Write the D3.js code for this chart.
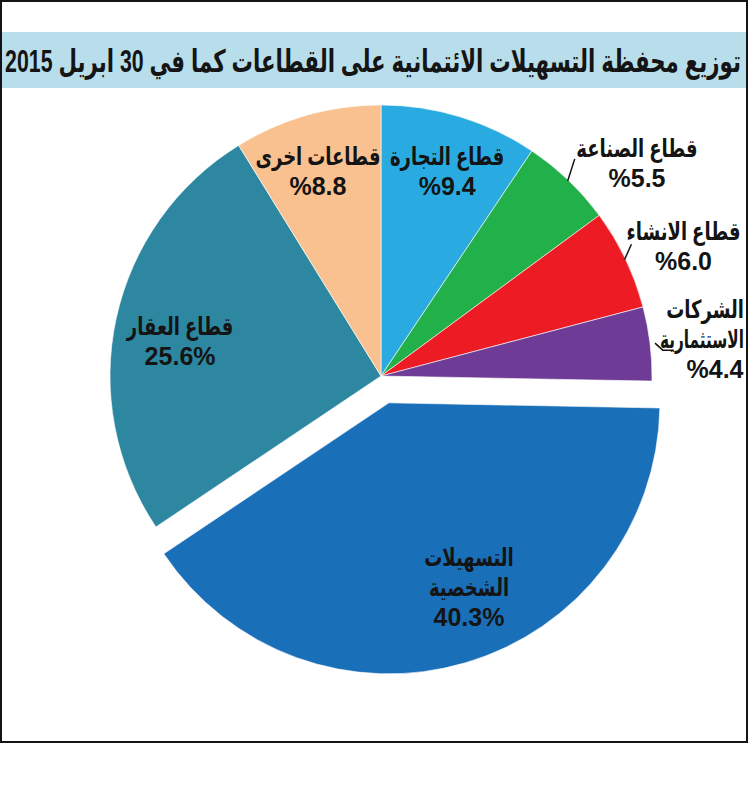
<!DOCTYPE html>
<html lang="ar">
<head>
<meta charset="UTF-8">
<title>توزيع محفظة التسهيلات الائتمانية</title>
<script src="https://d3js.org/d3.v7.min.js"></script>
<style>
    body { margin: 0; background: #fff; }
    text {
        font-family: "Liberation Sans", Arial, "DejaVu Sans", sans-serif;
        font-weight: bold;
        fill: #141414;
    }
</style>
</head>
<body>
<script>
    // data, clockwise from 12 o'clock
    const sectorNames = [
        ["قطاع التجارة"],
        ["قطاع الصناعة"],
        ["قطاع الانشاء"],
        ["الشركات", "الاستثمارية"],
        ["التسهيلات", "الشخصية"],
        ["قطاع العقار"],
        ["قطاعات اخرى"]
    ];
    const shares = [9.4, 5.5, 6.0, 4.4, 40.3, 25.6, 8.8];
    const shareTexts = ["%9.4", "%5.5", "%6.0", "%4.4", "40.3%", "25.6%", "%8.8"];
    const sliceColors = ["#29abe2", "#22b04b", "#ed1c24", "#6e3b97", "#1a6fb9", "#2e87a0", "#f9c18f"];
    const title = "توزيع محفظة التسهيلات الائتمانية على القطاعات كما في 30 ابريل 2015";

    const width = 750, height = 793;
    const cx = 381, cy = 376, radius = 271;
    const explodeIndex = 4, explodeBy = 28;

    // where each label block sits: radius from centre and angle nudge (deg) from slice middle
    const labelRadius = [215, 333, 329, 336, 201, 204, 214];
    const labelShift = [1.0, 6.5, 2.4, 0.6, -7.1, -2.3, -1.3];
    // leader lines for the small outside labels: [r0, r1, angle nudge of end, tail]
    const leaders = { 1: [270, 291, -2, 0], 2: [270, 283, -2.2, 0], 3: [276, 283, 1.6, 11] };

    const svg = d3.select("body").append("svg")
        .attr("width", width)
        .attr("height", height);

    svg.append("defs").append("clipPath").attr("id", "frame")
        .append("rect").attr("x", 1).attr("y", 1).attr("width", 746).attr("height", 741);

    const root = svg.append("g").attr("clip-path", "url(#frame)");

    // title bar
    root.append("rect")
        .attr("x", 2).attr("y", 32)
        .attr("width", 745).attr("height", 56)
        .attr("fill", "#b7deea");

    const titleText = root.append("text")
        .attr("x", 0).attr("y", 0)
        .attr("text-anchor", "middle")
        .attr("direction", "rtl")
        .style("font-size", "31px")
        .text(title);
    const tw = titleText.node().getComputedTextLength();
    titleText.attr("transform", `translate(373,72) scale(${tw > 0 ? 736 / tw : 1},1)`);

    const pie = d3.pie().sort(null).value(d => d);
    const arcs = pie(shares);
    const arc = d3.arc().innerRadius(0).outerRadius(radius);

    const polar = (r, a) => [r * Math.sin(a), -r * Math.cos(a)];
    const mid = d => (d.startAngle + d.endAngle) / 2;
    const offsetOf = (d, i) => i === explodeIndex ? polar(explodeBy, mid(d)) : [0, 0];

    const chart = root.append("g").attr("transform", `translate(${cx},${cy})`);

    chart.selectAll("path.slice")
        .data(arcs)
        .join("path")
        .attr("class", "slice")
        .attr("transform", (d, i) => `translate(${offsetOf(d, i)})`)
        .attr("d", arc)
        .attr("fill", (d, i) => sliceColors[i])
        .attr("stroke", "#fff")
        .attr("stroke-width", 0.6);

    // leader lines
    Object.entries(leaders).forEach(([k, l]) => {
        const d = arcs[+k];
        const a = mid(d), rad = Math.PI / 180;
        const p0 = polar(l[0], a), p1 = polar(l[1], a + l[2] * rad);
        const pts = [p0, p1];
        if (l[3]) pts.push([p1[0] + l[3], p1[1]]);
        chart.append("path")
            .attr("d", d3.line()(pts))
            .attr("fill", "none")
            .attr("stroke", "#141414")
            .attr("stroke-width", 1.5);
    });

    // labels
    const lineH = 30;
    const arabicScale = 0.72;
    const rightLimit = 744 - cx;
    const squeezeWidth = 84; // a line that runs past the frame gets squeezed to this
    arcs.forEach((d, i) => {
        const a = mid(d) + labelShift[i] * Math.PI / 180;
        const off = offsetOf(d, i);
        const [lx, ly] = polar(labelRadius[i], a);
        const lines = sectorNames[i].concat([shareTexts[i]]);
        const top = ly - (lines.length - 1) * lineH / 2;
        lines.forEach((t, j) => {
            const isNum = j === lines.length - 1;
            let sx = isNum ? 1 : arabicScale;
            const txt = chart.append("text")
                .attr("x", 0)
                .attr("y", 0)
                .attr("dy", "0.35em")
                .attr("text-anchor", "middle")
                .attr("direction", isNum ? "ltr" : "rtl")
                .style("font-size", "25px")
                .text(t);
            const raw = txt.node().getComputedTextLength();
            let w = raw * sx;
            let x = lx + off[0];
            if (x + w / 2 > rightLimit) {
                if (w > squeezeWidth) { sx = squeezeWidth / raw; w = squeezeWidth; }
                x = Math.min(x, rightLimit - w / 2);
            }
            txt.attr("transform", `translate(${x},${top + j * lineH + off[1]}) scale(${sx},1)`);
        });
    });

    // outer frame
    svg.append("rect")
        .attr("x", 1).attr("y", 1)
        .attr("width", 746).attr("height", 741)
        .attr("fill", "none")
        .attr("stroke", "#141414")
        .attr("stroke-width", 2);
</script>
</body>
</html>
